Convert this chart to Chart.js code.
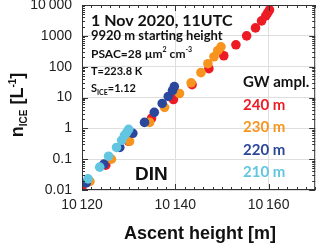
<!DOCTYPE html>
<html>
<head>
<meta charset="utf-8">
<script src="https://cdn.jsdelivr.net/npm/chart.js@4.4.0/dist/chart.umd.min.js"></script>
<style>
  html, body { margin: 0; padding: 0; background: #fff; }
  canvas { display: block; }
</style>
</head>
<body>
<canvas id="chart" width="320" height="246"></canvas>
<script>
// ascent height [m] and n_ice [1/L] for each GW amplitude
const h240 = [10120, 10125.1, 10130.0, 10134.9, 10139.6, 10143.6, 10147.2, 10150.4, 10153.0, 10155.3, 10157.2, 10158.5, 10159.4, 10159.8, 10160.2];
const n240 = [0.01, 0.064, 0.38, 2.1, 8.6, 26, 86, 226, 513, 1000, 1810, 3050, 4410, 5520, 6900];

const h230 = [10121.7, 10126.3, 10130.2, 10134.5, 10137.7, 10140.9, 10143.4, 10145.5, 10147.0, 10148.3, 10149.1, 10149.8];
const n230 = [0.019, 0.1, 0.38, 1.56, 4.8, 13.5, 30, 64, 125, 210, 330, 440];

const h220 = [10120.9, 10124.7, 10128.1, 10130.9, 10133.4, 10135.5, 10137.2, 10138.5, 10139.4, 10139.8];
const n220 = [0.017, 0.069, 0.24, 0.69, 1.56, 3.3, 6.4, 10.8, 16.8, 22.6];

const h210 = [10121.3, 10123.8, 10125.7, 10127.4, 10128.5, 10129.1, 10129.6, 10130.0];
const n210 = [0.023, 0.055, 0.125, 0.24, 0.41, 0.59, 0.74, 0.93];

const seriesNames   = ['240 m', '230 m', '220 m', '210 m'];
const seriesColours = ['#ed1c24', '#f7941d', '#2b479b', '#62c6e0'];

const xTicks = [10120, 10140, 10160];
const yTicks = [0.01, 0.1, 1, 10, 100, 1000, 10000];
const yLabels = ['0.01', '0.1', '1', '10', '100', '1000', '10\u2009000'];

function pairs(xs, ys) {
    return xs.map((v, i) => ({ x: v, y: ys[i] }));
}

const seriesData = [pairs(h240, n240), pairs(h230, n230), pairs(h220, n220), pairs(h210, n210)];

// draw a line made of runs: [text, size, dy]
function richText(ctx, runs, x, y, family, colour) {
    let cx = x;
    for (const [t, size, dy] of runs) {
        ctx.font = 'bold ' + size + 'px ' + family;
        ctx.fillStyle = colour;
        ctx.fillText(t, cx, y + dy);
        cx += ctx.measureText(t).width;
    }
    return cx - x;
}

function richWidth(ctx, runs, family) {
    let w = 0;
    for (const [t, size] of runs) {
        ctx.font = 'bold ' + size + 'px ' + family;
        w += ctx.measureText(t).width;
    }
    return w;
}

const decor = {
    id: 'decor',
    afterDatasetsDraw(chart) {
        const { ctx, chartArea: a, scales: { x, y } } = chart;
        ctx.save();
        ctx.strokeStyle = '#333';
        ctx.lineWidth = 1;
        ctx.beginPath();
        // x ticks, every 2 m, on top and bottom
        for (let v = x.min; v <= x.max; v += 2) {
            const px = Math.round(x.getPixelForValue(v)) + 0.5;
            const len = (v % 20 === 0) ? 6 : 3;
            ctx.moveTo(px, a.bottom); ctx.lineTo(px, a.bottom - len);
            ctx.moveTo(px, a.top);    ctx.lineTo(px, a.top + len);
        }
        // y ticks, log decades, on left and right
        for (let e = -2; e <= 4; e++) {
            for (let m = 1; m <= 9; m++) {
                const v = m * Math.pow(10, e);
                if (v > y.max * 1.001) break;
                const py = Math.round(y.getPixelForValue(v)) + 0.5;
                const len = (m === 1) ? 6 : 3;
                ctx.moveTo(a.left, py);  ctx.lineTo(a.left + len, py);
                ctx.moveTo(a.right, py); ctx.lineTo(a.right - len, py);
            }
        }
        ctx.stroke();
        ctx.strokeRect(a.left + 0.5, a.top + 0.5, a.right - a.left - 1, a.bottom - a.top - 1);
        ctx.restore();
    },
    afterDraw(chart) {
        const ctx = chart.ctx;
        const cal = 'Lato, "Open Sans", sans-serif';
        const ari = '"Liberation Sans", Arial, sans-serif';
        ctx.save();
        ctx.textBaseline = 'alphabetic';
        ctx.textAlign = 'left';

        richText(ctx, [['1 Nov 2020, 11UTC', 16, 0]], 91, 26, cal, '#111');
        richText(ctx, [['9920 m starting height', 13, 0]], 91, 40, cal, '#111');
        richText(ctx, [['PSAC=28 \u00b5m', 12, 0], ['2', 7, -6], [' cm', 12, 0], ['-3', 7, -6]], 91, 58, cal, '#111');
        richText(ctx, [['T=223.8 K', 11, 0]], 91, 75, cal, '#111');
        richText(ctx, [['S', 11, 0], ['ICE', 7, 3], ['=1.12', 11, 0]], 91, 92, cal, '#111');

        richText(ctx, [['GW ampl.', 15, 0]], 243, 87, cal, '#111');
        const ys = [110, 132, 155, 177];
        seriesNames.forEach((s, i) => richText(ctx, [[s, 15, 0]], 243, ys[i], cal, seriesColours[i]));

        richText(ctx, [['DIN', 19, 0]], 135, 180, ari, '#111');

        // x title
        ctx.font = 'bold 18px ' + ari;
        ctx.fillStyle = '#111';
        ctx.textAlign = 'center';
        ctx.fillText('Ascent height [m]', 200, 239);

        // y title, rotated
        ctx.textAlign = 'left';
        const runs = [['n', 18, 0], ['ICE', 10, 4], [' [L', 18, 0], ['-1', 10, -7], [']', 18, 0]];
        const w = richWidth(ctx, runs, ari);
        ctx.translate(23, 105);
        ctx.rotate(-Math.PI / 2);
        richText(ctx, runs, -w / 2, 0, ari, '#111');
        ctx.restore();
    }
};

new Chart(document.getElementById('chart'), {
    type: 'scatter',
    data: {
        datasets: seriesData.map((d, i) => ({
            label: seriesNames[i],
            data: d,
            backgroundColor: seriesColours[i],
            borderWidth: 0,
            pointRadius: 4.8,
            pointHoverRadius: 4.8,
            order: 3 - i
        }))
    },
    options: {
        responsive: false,
        animation: false,
        devicePixelRatio: 1,
        layout: { padding: { left: 0, right: 4, top: 5, bottom: 0 } },
        plugins: { legend: { display: false }, tooltip: { enabled: false } },
        scales: {
            x: {
                type: 'linear',
                min: 10120,
                max: 10170,
                afterBuildTicks: s => { s.ticks = xTicks.map(v => ({ value: v })); },
                afterFit: s => { s.height = 56; s.paddingLeft = 0; s.paddingRight = 0; },
                ticks: {
                    callback: v => String(v).slice(0, 2) + '\u2009' + String(v).slice(2),
                    font: { family: '"Liberation Sans", Arial, sans-serif', size: 14 },
                    color: '#222',
                    padding: 7,
                    maxRotation: 0
                },
                grid: { color: '#dedede', drawTicks: false },
                border: { display: false }
            },
            y: {
                type: 'logarithmic',
                min: 0.01,
                max: 10000,
                afterBuildTicks: s => { s.ticks = yTicks.map(v => ({ value: v })); },
                afterFit: s => { s.width = 82; s.paddingTop = 0; s.paddingBottom = 0; },
                ticks: {
                    callback: (v, i) => yLabels[i],
                    font: { family: '"Liberation Sans", Arial, sans-serif', size: 14 },
                    color: '#222',
                    padding: 10
                },
                grid: { color: '#dedede', drawTicks: false },
                border: { display: false }
            }
        }
    },
    plugins: [decor]
});
</script>
</body>
</html>
